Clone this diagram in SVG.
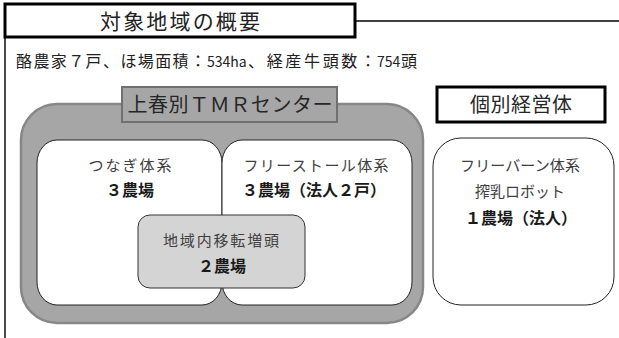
<svg xmlns="http://www.w3.org/2000/svg" width="619" height="338" viewBox="0 0 619 338">
<style>
text{font-family:"Noto Sans CJK JP","Noto Sans",sans-serif;}
.t{fill:#404040;font-size:15px;text-anchor:middle;}
.b{fill:#1a1a1a;font-size:16px;font-weight:bold;text-anchor:middle;}
.hd{fill:#262626;font-size:20px;text-anchor:middle;}
.wb{fill:#ffffff;stroke:#222;stroke-width:1;}
.num{font-size:14px;}
</style>
<rect width="619" height="338" fill="#ffffff"/>
<g id="connectors">
<line x1="355" y1="21" x2="619" y2="21" stroke="#000" stroke-width="1.5"/>
<line x1="5" y1="37" x2="5" y2="338" stroke="#111" stroke-width="1.5"/>
</g>
<g id="title">
<rect x="5" y="4" width="350" height="33" fill="#fff" stroke="#000" stroke-width="3"/>
<text x="180" y="29" class="hd" style="font-size:21px;fill:#222" textLength="160" lengthAdjust="spacing">対象地域の概要</text>
</g>
<g id="summary">
<text y="67" style="font-size:16px;fill:#222"><tspan x="16" textLength="190" lengthAdjust="spacing">酪農家７戸、ほ場面積：</tspan><tspan x="207" class="num">534ha</tspan><tspan x="248" textLength="128" lengthAdjust="spacing">、経産牛頭数：</tspan><tspan x="377" class="num">754</tspan><tspan x="401">頭</tspan></text>
</g>
<g id="tmr-center">
<rect x="21" y="104" width="402" height="219" rx="36" ry="36" fill="#a6a6a6" stroke="#878787" stroke-width="2.5"/>
<rect x="122" y="87" width="215" height="35" fill="#a6a6a6" stroke="#707070" stroke-width="2"/>
<text x="230" y="112" class="hd" textLength="205" lengthAdjust="spacing">上春別ＴＭＲセンター</text>
</g>
<g id="tsunagi">
<rect x="37" y="140" width="185" height="165" rx="20" ry="23" class="wb"/>
<text x="130" y="171" class="t" textLength="83" lengthAdjust="spacing">つなぎ体系</text>
<text x="130" y="196" class="b">３農場</text>
</g>
<g id="freestall">
<rect x="222" y="140" width="190" height="165" rx="20" ry="23" class="wb"/>
<text x="316" y="171" class="t" textLength="145" lengthAdjust="spacing">フリーストール体系</text>
<text x="314" y="196" class="b">３農場（法人２戸）</text>
</g>
<g id="transfer">
<rect x="138" y="215" width="167" height="73" rx="12" ry="12" fill="#d4d4d4" stroke="#333" stroke-width="1"/>
<text x="221" y="246" class="t" textLength="116" lengthAdjust="spacing">地域内移転増頭</text>
<text x="222" y="272" class="b">２農場</text>
</g>
<g id="individual">
<rect x="437" y="87" width="168" height="35" fill="#fff" stroke="#000" stroke-width="3"/>
<text x="521" y="112" class="hd" textLength="102" lengthAdjust="spacing">個別経営体</text>
</g>
<g id="freebarn">
<rect x="433" y="138" width="181" height="167" rx="28" ry="28" class="wb"/>
<text x="520" y="171" class="t" textLength="120" lengthAdjust="spacing">フリーバーン体系</text>
<text x="520" y="197" class="t">搾乳ロボット</text>
<text x="521" y="224" class="b">１農場（法人）</text>
</g>
</svg>
